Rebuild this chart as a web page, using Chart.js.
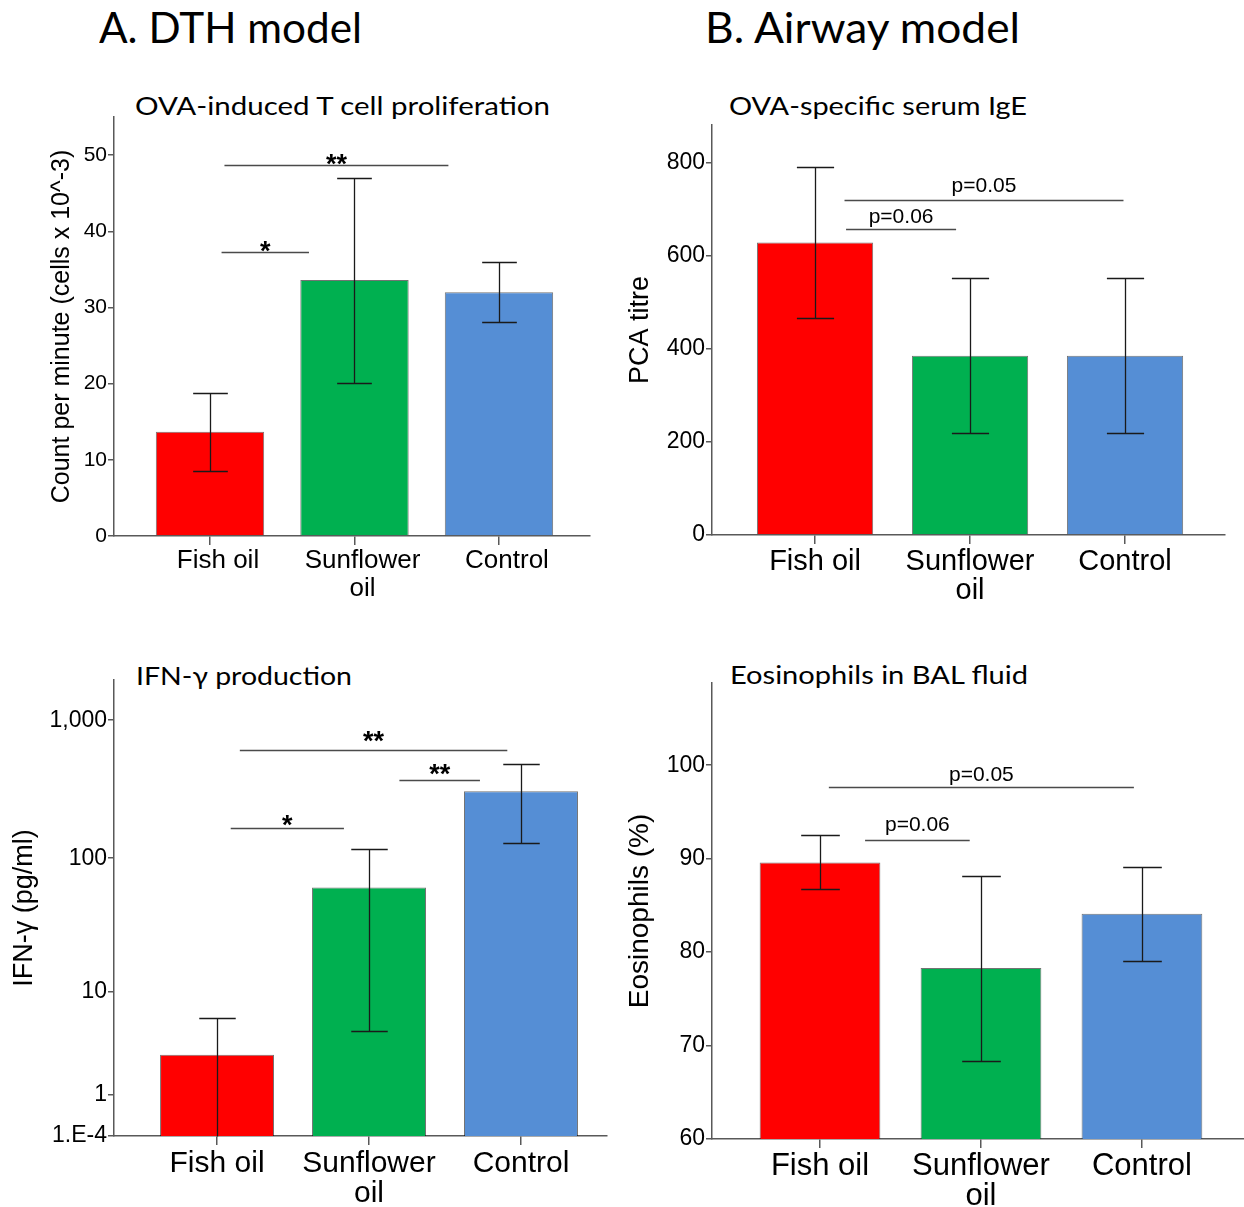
<!DOCTYPE html>
<html>
<head>
<meta charset="utf-8">
<script src="https://cdn.jsdelivr.net/npm/chart.js@4.4.1/dist/chart.umd.min.js"></script>
<style>
    body { margin: 0; background: #fff; width: 1244px; height: 1207px; position: relative; overflow: hidden; }
    canvas { position: absolute; }
    .txt { position: absolute; font-family: Lato, 'Open Sans', sans-serif; line-height: 1; color: #000;
           white-space: nowrap; display: inline-block; transform-origin: 0 0; }
</style>
</head>
<body>
<div class="txt" style="left:99px;top:6px;font-size:42px" data-w="263">A. DTH model</div>
<div class="txt" style="left:705px;top:6px;font-size:42px" data-w="315">B. Airway model</div>
<div class="txt" style="left:135px;top:93px;font-size:25px" data-w="415">OVA-induced T cell proliferation</div>
<div class="txt" style="left:729px;top:93px;font-size:25px" data-w="298">OVA-specific serum IgE</div>
<div class="txt" style="left:136px;top:663px;font-size:25px" data-w="216">IFN-γ production</div>
<div class="txt" style="left:730px;top:662px;font-size:25px" data-w="298">Eosinophils in BAL fluid</div>

<canvas id="c-prolif" width="610" height="513" style="left:0;top:102px"></canvas>
<canvas id="c-ige" width="634" height="510" style="left:610px;top:105px"></canvas>
<canvas id="c-ifn" width="610" height="547" style="left:0;top:660px"></canvas>
<canvas id="c-eos" width="634" height="544" style="left:610px;top:663px"></canvas>

<script>
// Data
const groups = ['Fish oil', ['Sunflower', 'oil'], 'Control'];
const barColors = ['#FF0000', '#00B050', '#558ED5'];

// A. OVA-induced T cell proliferation (cpm x 10^-3)
const prolifMean = [13.7, 33.6, 32.0];
const prolifLow = [8.5, 20.1, 28.1];
const prolifHigh = [18.8, 47.0, 36.0];
const prolifTicks = [0, 10, 20, 30, 40, 50];
const prolifSigText = ['*', '**'];
const prolifSigFrom = [1.08, 1.10];
const prolifSigTo = [1.685, 2.65];
const prolifSigLevel = [37.3, 48.7];

// A. IFN-gamma production (pg/ml), axis is log10(1 + x)
const ifnMean = [2.85, 61, 306];
const ifnLow = [0, 4.7, 129];
const ifnHigh = [6.1, 116, 485];
const ifnTicks = [0.0001, 1, 10, 100, 1000];
const ifnTickLabels = ['1.E-4', '1', '10', '100', '1,000'];
const ifnSigText = ['*', '**', '**'];
const ifnSigFrom = [1.09, 1.15, 2.2];
const ifnSigTo = [1.835, 2.91, 2.73];
const ifnSigLevel = [165, 608, 369];

// B. OVA-specific serum IgE (PCA titre)
const igeMean = [628, 385, 385];
const igeLow = [466, 219, 219];
const igeHigh = [790, 551, 551];
const igeTicks = [0, 200, 400, 600, 800];
const igeSigText = ['p=0.06', 'p=0.05'];
const igeSigFrom = [1.2, 1.19];
const igeSigTo = [1.91, 2.99];
const igeSigLevel = [656, 720];

// B. Eosinophils in BAL fluid (%)
const eosMean = [89.6, 78.3, 84.1];
const eosLow = [86.8, 68.4, 79.1];
const eosHigh = [92.5, 88.1, 89.1];
const eosTicks = [60, 70, 80, 90, 100];
const eosSigText = ['p=0.06', 'p=0.05'];
const eosSigFrom = [1.28, 1.055];
const eosSigTo = [1.93, 2.95];
const eosSigLevel = [92.0, 97.7];

const toLog = v => Math.log10(1 + v);
const same = v => v;
const AXIS = '#595959';
const ARIAL = "'Liberation Sans', Arial, sans-serif";

function buildChart(id, cfg) {
    const tf = cfg.tf || same;

    // error bars + significance bars, drawn through the chart scales
    const overlay = {
        id: 'overlay',
        afterDatasetsDraw(chart) {
            const { ctx, chartArea, scales: { x, y } } = chart;
            const step = x.getPixelForValue(2) - x.getPixelForValue(1);
            const half = step * 0.12;
            ctx.save();
            ctx.strokeStyle = '#1a1a1a';
            ctx.lineWidth = 1.3;
            cfg.low.forEach((lo, i) => {
                const cx = Math.round(x.getPixelForValue(i + 1)) + 0.5;
                const yLo = Math.round(y.getPixelForValue(tf(lo))) + 0.5;
                const yHi = Math.round(y.getPixelForValue(tf(cfg.high[i]))) + 0.5;
                ctx.beginPath();
                ctx.moveTo(cx, yLo); ctx.lineTo(cx, yHi);
                if (yLo < chartArea.bottom - 2) {
                    ctx.moveTo(cx - half, yLo); ctx.lineTo(cx + half, yLo);
                }
                ctx.moveTo(cx - half, yHi); ctx.lineTo(cx + half, yHi);
                ctx.stroke();
            });

            ctx.strokeStyle = '#4a4a4a';
            ctx.fillStyle = '#000';
            ctx.textAlign = 'center';
            ctx.textBaseline = 'alphabetic';
            cfg.sigText.forEach((t, i) => {
                const x0 = x.getPixelForValue(cfg.sigFrom[i]);
                const x1 = x.getPixelForValue(cfg.sigTo[i]);
                const ly = Math.round(y.getPixelForValue(tf(cfg.sigLevel[i]))) + 0.5;
                const gap = cfg.textGap[i];
                ctx.beginPath();
                ctx.moveTo(x0, ly); ctx.lineTo(x1, ly);
                ctx.stroke();
                if (t.startsWith('p')) {
                    ctx.font = '21px ' + ARIAL;
                    ctx.fillText(t, (x0 + x1) / 2, ly - gap);
                } else {
                    // asterisk glyph bottom sits ~10px above the baseline
                    ctx.font = 'bold 27px ' + ARIAL;
                    ctx.fillText(t, (x0 + x1) / 2, ly + 10 - gap);
                }
            });
            ctx.restore();
        }
    };

    return new Chart(document.getElementById(id), {
        type: 'bar',
        data: {
            datasets: [{
                data: cfg.mean.map((v, i) => ({ x: i + 1, y: tf(v) })),
                backgroundColor: barColors,
                borderColor: 'rgba(0,0,0,0.55)',
                borderWidth: 1,
                categoryPercentage: 1,
                barPercentage: 0.75
            }]
        },
        options: {
            responsive: false,
            animation: false,
            devicePixelRatio: 1,
            layout: { padding: { top: cfg.padTop, right: cfg.padRight, left: 0, bottom: 0 } },
            plugins: { legend: { display: false }, tooltip: { enabled: false } },
            scales: {
                x: {
                    type: 'linear',
                    min: cfg.xMin,
                    max: cfg.xMax,
                    offset: false,
                    afterBuildTicks: s => { s.ticks = [1, 2, 3].map(v => ({ value: v })); },
                    afterFit: s => { s.height = cfg.xHeight; },
                    ticks: {
                        callback: (v, i) => groups[i],
                        autoSkip: false, maxRotation: 0, minRotation: 0,
                        color: '#000', padding: cfg.xPad, labelOffset: cfg.labelShift || 0,
                        font: { family: ARIAL, size: cfg.catSize, lineHeight: cfg.catLine }
                    },
                    grid: { drawOnChartArea: false, tickLength: 9, color: AXIS, lineWidth: 1.5, offset: false },
                    border: { color: AXIS, width: 1.5 }
                },
                y: {
                    min: cfg.yMin,
                    max: cfg.yMax,
                    afterBuildTicks: s => { s.ticks = cfg.ticks.map(v => ({ value: tf(v) })); },
                    afterFit: s => { s.width = cfg.yWidth; },
                    ticks: {
                        callback: (v, i) => cfg.tickLabels ? cfg.tickLabels[i] : String(cfg.ticks[i]),
                        autoSkip: false, color: '#000', padding: 1,
                        font: { family: ARIAL, size: cfg.tickSize }
                    },
                    grid: { drawOnChartArea: false, tickLength: 6, color: AXIS, lineWidth: 1.5 },
                    border: { color: AXIS, width: 1.5 },
                    title: {
                        display: true, text: cfg.yTitle, color: '#000',
                        font: { family: ARIAL, size: cfg.titleSize, lineHeight: 1.2 },
                        padding: { top: cfg.titlePad, bottom: 0 }
                    }
                }
            }
        },
        plugins: [overlay]
    });
}

buildChart('c-prolif', {
    mean: prolifMean, low: prolifLow, high: prolifHigh, ticks: prolifTicks,
    sigText: prolifSigText, sigFrom: prolifSigFrom, sigTo: prolifSigTo, sigLevel: prolifSigLevel,
    yMin: 0, yMax: 55, xMin: 0.3356, xMax: 3.63,
    yWidth: 114, xHeight: 79, padTop: 15, padRight: 20, xPad: 2, labelShift: 8,
    catSize: 26, catLine: 1.08, tickSize: 21, textGap: [3, 3],
    yTitle: 'Count per minute (cells x 10^-3)', titleSize: 25, titlePad: 47
});

buildChart('c-ige', {
    mean: igeMean, low: igeLow, high: igeHigh, ticks: igeTicks,
    sigText: igeSigText, sigFrom: igeSigFrom, sigTo: igeSigTo, sigLevel: igeSigLevel,
    yMin: 0, yMax: 880, xMin: 0.335, xMax: 3.645,
    yWidth: 102, xHeight: 80, padTop: 20, padRight: 19, xPad: 3,
    catSize: 29, catLine: 1.02, tickSize: 23, textGap: [7, 9],
    yTitle: 'PCA titre', titleSize: 27, titlePad: 14
});

buildChart('c-ifn', {
    mean: ifnMean, low: ifnLow, high: ifnHigh, ticks: ifnTicks, tickLabels: ifnTickLabels,
    sigText: ifnSigText, sigFrom: ifnSigFrom, sigTo: ifnSigTo, sigLevel: ifnSigLevel,
    tf: toLog, yMin: 0, yMax: toLog(1950), xMin: 0.322, xMax: 3.566,
    yWidth: 114, xHeight: 71, padTop: 20, padRight: 3, xPad: 4,
    catSize: 30, catLine: 1.0, tickSize: 23, textGap: [5, 11, 8],
    yTitle: 'IFN-γ (pg/ml)', titleSize: 27, titlePad: 8
});

buildChart('c-eos', {
    mean: eosMean, low: eosLow, high: eosHigh, ticks: eosTicks,
    sigText: eosSigText, sigFrom: eosSigFrom, sigTo: eosSigTo, sigLevel: eosSigLevel,
    yMin: 60, yMax: 108.8, xMin: 0.329, xMax: 3.634,
    yWidth: 102, xHeight: 68, padTop: 20, padRight: 0, xPad: 4,
    catSize: 31, catLine: 0.95, tickSize: 23, textGap: [10, 7],
    yTitle: 'Eosinophils (%)', titleSize: 28, titlePad: 13
});

// squeeze the Calibri-like headings to the reference widths
document.querySelectorAll('.txt').forEach(el => {
    const w = el.getBoundingClientRect().width;
    el.style.transform = 'scaleX(' + (el.dataset.w / w) + ')';
});
</script>
</body>
</html>
